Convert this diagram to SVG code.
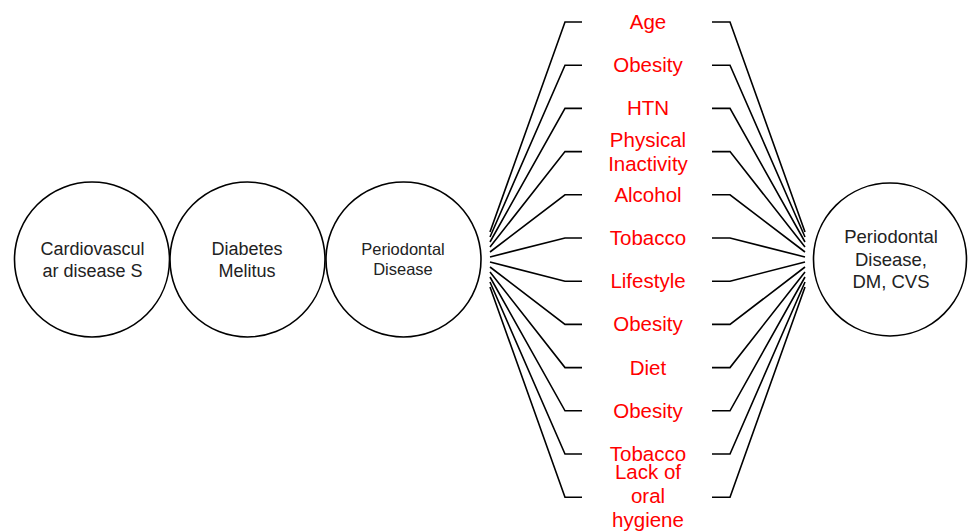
<svg xmlns="http://www.w3.org/2000/svg" width="968" height="532" viewBox="0 0 968 532">
<style>
.node circle{fill:#fff;stroke:#000;stroke-width:1.6}
.nt{font-family:"Liberation Sans",Arial,sans-serif;fill:#222;text-anchor:middle}
.lbl{font-family:"Liberation Sans",Arial,sans-serif;fill:#ff0000;font-size:20.5px;text-anchor:middle}
#connectors path{fill:none;stroke:#000;stroke-width:1.6}
</style>
<rect width="968" height="532" fill="#fff"/>
<g id="connectors">
<path d="M582,22H565L490,232"/>
<path d="M582,65.2H565L490,237"/>
<path d="M582,108.4H565L490,242"/>
<path d="M582,151.6H565L490,247"/>
<path d="M582,194.8H565L490,252"/>
<path d="M582,238H565L490,257"/>
<path d="M582,281.2H565L490,262"/>
<path d="M582,324.4H565L490,267"/>
<path d="M582,367.6H565L490,272"/>
<path d="M582,410.8H565L490,277"/>
<path d="M582,454H565L490,282"/>
<path d="M582,497.2H565L490,287"/>
<path d="M712,22H730L805,232"/>
<path d="M712,65.2H730L805,237"/>
<path d="M712,108.4H730L805,242"/>
<path d="M712,151.6H730L805,247"/>
<path d="M712,194.8H730L805,252"/>
<path d="M712,238H730L805,257"/>
<path d="M712,281.2H730L805,262"/>
<path d="M712,324.4H730L805,267"/>
<path d="M712,367.6H730L805,272"/>
<path d="M712,410.8H730L805,277"/>
<path d="M712,454H730L805,282"/>
<path d="M712,497.2H730L805,287"/>
</g>
<g id="n-cvd" class="node">
<circle cx="92" cy="259.5" r="77.5"/>
<text class="nt" font-size="18" x="92.5" y="255">Cardiovascul</text>
<text class="nt" font-size="18" x="92.5" y="277">ar disease S</text>
</g>
<g id="n-dm" class="node">
<circle cx="247.5" cy="259.5" r="77.5"/>
<text class="nt" font-size="18" x="247" y="255">Diabetes</text>
<text class="nt" font-size="18" x="247" y="277">Melitus</text>
</g>
<g id="n-pd" class="node">
<circle cx="403.5" cy="259.5" r="77.5"/>
<text class="nt" font-size="16.5" x="403" y="255">Periodontal</text>
<text class="nt" font-size="16.5" x="403" y="275">Disease</text>
</g>
<g id="n-out" class="node">
<circle cx="890" cy="259.5" r="76.5"/>
<text class="nt" font-size="18.5" x="891" y="243">Periodontal</text>
<text class="nt" font-size="18.5" x="891" y="265.5">Disease,</text>
<text class="nt" font-size="18.5" x="891" y="288">DM, CVS</text>
</g>
<g id="f-age"><text class="lbl" x="648" y="29">Age</text></g>
<g id="f-obesity1"><text class="lbl" x="648" y="72">Obesity</text></g>
<g id="f-htn"><text class="lbl" x="648" y="115">HTN</text></g>
<g id="f-physical"><text class="lbl" x="648" y="147">Physical</text><text class="lbl" x="648" y="170.5">Inactivity</text></g>
<g id="f-alcohol"><text class="lbl" x="648" y="202">Alcohol</text></g>
<g id="f-tobacco1"><text class="lbl" x="648" y="245">Tobacco</text></g>
<g id="f-lifestyle"><text class="lbl" x="648" y="288">Lifestyle</text></g>
<g id="f-obesity2"><text class="lbl" x="648" y="331">Obesity</text></g>
<g id="f-diet"><text class="lbl" x="648" y="375">Diet</text></g>
<g id="f-obesity3"><text class="lbl" x="648" y="418">Obesity</text></g>
<g id="f-tobacco2"><text class="lbl" x="648" y="461">Tobacco</text></g>
<g id="f-oral"><text class="lbl" x="648" y="479">Lack of</text><text class="lbl" x="648" y="503">oral</text><text class="lbl" x="648" y="527">hygiene</text></g>
</svg>
